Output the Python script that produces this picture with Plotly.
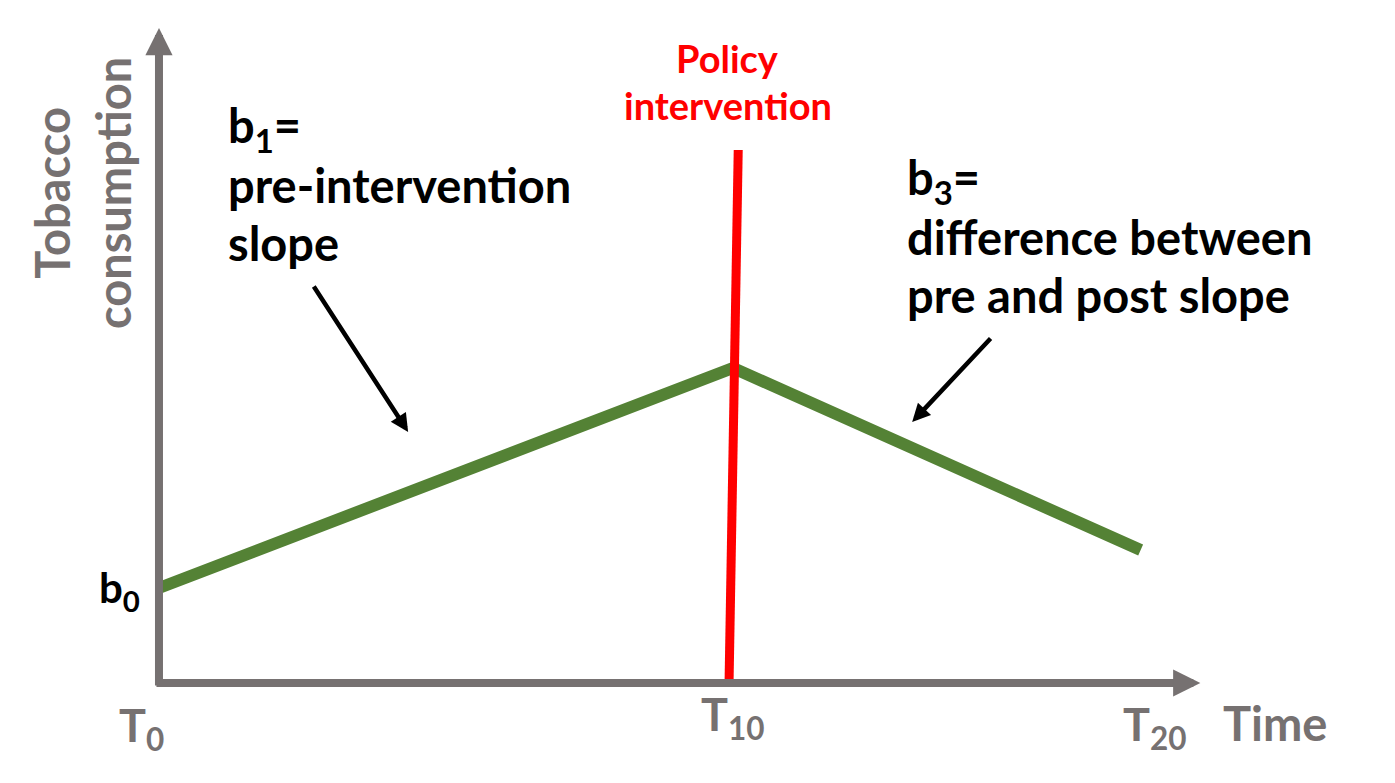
import plotly.graph_objects as go

# 数据（示意图，单位任意）
time = [0, 10, 17.1]
consumption = [9.5, 31.5, 13.3]
policy_time = [9.93, 10.09]
policy_y = [0, 53.3]
tick_pos = [0, 10, 17.35]
tick_text = ["T<sub>0</sub>", "T<sub>10</sub>", "T<sub>20</sub>"]

GRAY = "#767171"
GREEN = "#548235"
RED = "#FF0000"
FONT = "Lato"

fig = go.Figure()

fig.add_trace(go.Scatter(
    x=time, y=consumption, mode="lines",
    line=dict(color=GREEN, width=12),
    hoverinfo="skip", showlegend=False
))
fig.add_trace(go.Scatter(
    x=policy_time, y=policy_y, mode="lines",
    line=dict(color=RED, width=9),
    hoverinfo="skip", showlegend=False
))

annotations = []

# 坐标轴箭头
annotations.append(dict(x=0, y=65.5, ax=0, ay=-0.4, xref="x", yref="y", axref="x", ayref="y",
                        text="", showarrow=True, arrowhead=2, arrowsize=0.68, arrowwidth=8,
                        arrowcolor=GRAY))
annotations.append(dict(x=18.14, y=0, ax=-0.07, ay=0, xref="x", yref="y", axref="x", ayref="y",
                        text="", showarrow=True, arrowhead=2, arrowsize=0.68, arrowwidth=8,
                        arrowcolor=GRAY))

# 黑色指示箭头
annotations.append(dict(x=4.34, y=25.1, ax=2.68, ay=39.8, xref="x", yref="y", axref="x", ayref="y",
                        text="", showarrow=True, arrowhead=2, arrowsize=0.8, arrowwidth=4.5,
                        arrowcolor="black"))
annotations.append(dict(x=13.12, y=26.1, ax=14.51, ay=34.6, xref="x", yref="y", axref="x", ayref="y",
                        text="", showarrow=True, arrowhead=2, arrowsize=0.8, arrowwidth=4.5,
                        arrowcolor="black"))

# 文字
def label(x, y, text, size, color, xanchor="left", angle=0, xshift=0):
    annotations.append(dict(x=x, y=y, xref="x", yref="y", text=text, showarrow=False,
                            xanchor=xanchor, yanchor="middle", textangle=angle, xshift=xshift,
                            font=dict(family=FONT, size=size, color=color)))

for yy, txt in zip([55.5, 49.8, 44.0], ["<b>b<sub>1</sub>=</b>", "<b>pre-intervention</b>", "<b>slope</b>"]):
    label(1.17, yy, txt, 47, "black")
for yy, txt in zip([50.3, 44.6, 38.8], ["<b>b<sub>3</sub>=</b>", "<b>difference between</b>", "<b>pre and post slope</b>"]):
    label(13.0, yy, txt, 47, "black")
label(9.91, 62.5, "<b>Policy</b>", 38, RED, xanchor="center")
label(9.91, 57.8, "<b>intervention</b>", 38, RED, xanchor="center")
label(-1.34, 49.0, "<b>Tobacco<br>consumption</b>", 47, GRAY, xanchor="center", angle=-90)
label(-0.68, 9.3, "<b>b<sub>0</sub></b>", 42, "black", xanchor="center")

tick_y = [-4.5, -3.4, -4.4]
tick_shift = [-17, 0, 0]
for tx, ty, tt, sh in zip(tick_pos, tick_y, tick_text, tick_shift):
    label(tx, ty, "<b>" + tt + "</b>", 45, GRAY, xanchor="center", xshift=sh)
label(19.44, -4.0, "<b>Time</b>", 47, GRAY, xanchor="center")

fig.update_layout(
    width=1395, height=783,
    margin=dict(l=0, r=0, t=0, b=0),
    paper_bgcolor="white", plot_bgcolor="white",
    xaxis=dict(range=[-2.63, 21.67], visible=False, fixedrange=True),
    yaxis=dict(range=[-10.8, 67.5], visible=False, fixedrange=True),
    annotations=annotations,
    showlegend=False
)

fig.write_html("out.html")
